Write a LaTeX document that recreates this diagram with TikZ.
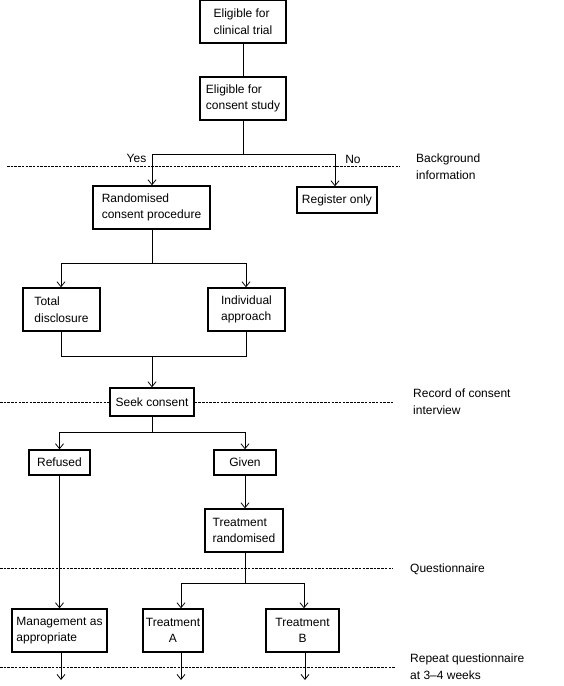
\documentclass[tikz,border=0pt]{standalone}
\usepackage{fontspec}
\setmainfont{Liberation Sans}
\usetikzlibrary{arrows.meta}
\begin{document}
\begin{tikzpicture}[x=1pt,y=-1pt,
  box/.style={draw, line width=1.3pt, align=left, inner sep=0pt,
    font=\fontsize{12}{16.5}\selectfont},
  lbl/.style={anchor=west, align=left, inner sep=0pt,
    font=\fontsize{12}{16.5}\selectfont},
  conn/.style={line width=0.8pt},
  arr/.style={line width=0.8pt, -{Straight Barb[length=5pt,width=8pt]}},
  dsh/.style={line width=0.7pt, dash pattern=on 2.5pt off 1.2pt}]
\useasboundingbox (0,0) rectangle (563,686);
% boxes
\node[box, minimum width=86pt, minimum height=43pt] (b1) at (243,21.5) {Eligible for\\clinical trial};
\node[box, minimum width=86pt, minimum height=43pt] (b2) at (243,98.5) {Eligible for\\consent study};
\node[box, minimum width=117pt, minimum height=43pt] (rand) at (151.5,207.5) {Randomised\\consent procedure};
\node[box, minimum width=80pt, minimum height=26pt] (reg) at (337,200) {Register only};
\node[box, minimum width=77pt, minimum height=43pt] (total) at (61.5,309.5) {Total\\disclosure};
\node[box, minimum width=77pt, minimum height=43pt] (indiv) at (246.5,309.5) {Individual\\approach};
\node[box, minimum width=84pt, minimum height=28pt] (seek) at (152,402) {Seek consent};
\node[box, minimum width=61pt, minimum height=25pt] (ref) at (59.5,462.5) {Refused};
\node[box, minimum width=62pt, minimum height=25pt] (given) at (245,462.5) {Given};
\node[box, minimum width=78pt, minimum height=43pt] (trand) at (244,530.5) {Treatment\\randomised};
\node[box, minimum width=95pt, minimum height=43pt] (mgmt) at (59.5,630.5) {Management as\\appropriate};
\node[box, align=center, minimum width=60pt, minimum height=43pt] (tA) at (173,630.5) {Treatment\\A};
\node[box, align=center, minimum width=73pt, minimum height=43pt] (tB) at (302.5,630.5) {Treatment\\B};
% labels
\node[inner sep=0pt, font=\fontsize{12}{14}\selectfont] (yes) at (136.5,158) {Yes};
\node[inner sep=0pt, font=\fontsize{12}{14}\selectfont] (no) at (353,159) {No};
\node[lbl, anchor=north west] (bg) at (416,154) {Background\\information};
\node[lbl, anchor=north west] (rec) at (413,389) {Record of consent\\interview};
\node[lbl, anchor=north west] (q) at (410,564) {Questionnaire};
\node[lbl, anchor=north west] (rq) at (410,654) {Repeat questionnaire\\at 3–4 weeks};
% coordinates
\coordinate (j1) at (243,154);
\coordinate (j1l) at (152,154);
\coordinate (j1r) at (335,154);
\coordinate (j2) at (152,263);
\coordinate (j2l) at (61,263);
\coordinate (j2r) at (246,263);
\coordinate (j3l) at (61,356);
\coordinate (j3r) at (246,356);
\coordinate (j3) at (152,356);
\coordinate (j4) at (152,432);
\coordinate (j4l) at (59.5,432);
\coordinate (j4r) at (245,432);
\coordinate (j5) at (245,583);
\coordinate (j5l) at (181,583);
\coordinate (j5r) at (304,583);
\coordinate (e1) at (61,680);
\coordinate (e2) at (181,680);
\coordinate (e3) at (305,680);
% connectors
\draw[conn] (b1) -- (b2);
\draw[conn] (b2) -- (j1);
\draw[conn] (j1l) -- (j1r);
\draw[arr] (j1l) -- (j1l |- rand.north);
\draw[arr] (j1r) -- (j1r |- reg.north);
\draw[conn] (rand.south -| j2) -- (j2);
\draw[conn] (j2l) -- (j2r);
\draw[arr] (j2l) -- (j2l |- total.north);
\draw[arr] (j2r) -- (j2r |- indiv.north);
\draw[conn] (total.south -| j3l) -- (j3l) -- (j3r) -- (indiv.south -| j3r);
\draw[arr] (j3) -- (j3 |- seek.north);
\draw[conn] (seek.south -| j4) -- (j4);
\draw[conn] (j4l) -- (j4r);
\draw[arr] (j4l) -- (j4l |- ref.north);
\draw[arr] (j4r) -- (j4r |- given.north);
\draw[arr] (ref.south -| mgmt.north) -- (mgmt.north);
\draw[arr] (given.south -| j5) -- (j5 |- trand.north);
\draw[conn] (trand.south -| j5) -- (j5);
\draw[conn] (j5l) -- (j5r);
\draw[arr] (j5l) -- (j5l |- tA.north);
\draw[arr] (j5r) -- (j5r |- tB.north);
\draw[arr] (mgmt.south -| e1) -- (e1);
\draw[arr] (tA.south -| e2) -- (e2);
\draw[arr] (tB.south -| e3) -- (e3);
% dashed separators
\draw[dsh] (7,166) -- (400,166);
\draw[dsh] (0,402) -- (seek.west);
\draw[dsh] (seek.east) -- (393,402);
\draw[dsh] (0,568) -- (393,568);
\draw[dsh] (0,667) -- (395,667);
\end{tikzpicture}
\end{document}
